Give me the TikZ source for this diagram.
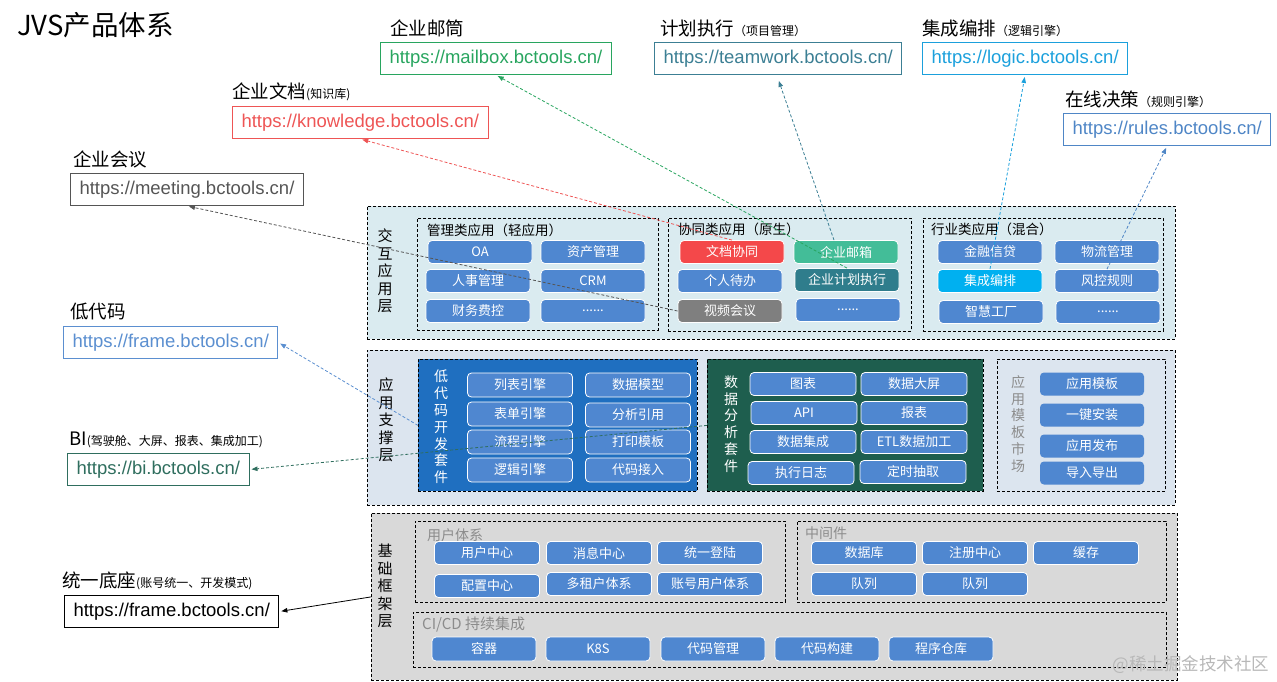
\documentclass[tikz,border=0pt]{standalone}
\usepackage{fontspec}
\setmainfont{Noto Sans CJK SC}
\newfontfamily\urlfont{Liberation Sans}
\usetikzlibrary{positioning,arrows.meta}

\definecolor{btnblue}{HTML}{4F87D0}
\definecolor{docred}{HTML}{F4484A}
\definecolor{mailteal}{HTML}{43BD98}
\definecolor{planteal}{HTML}{2F7D8C}
\definecolor{meetgray}{HTML}{7F7F7F}
\definecolor{flowcyan}{HTML}{00B0F0}
\definecolor{lyone}{HTML}{DAEBF0}
\definecolor{lytwo}{HTML}{DCE5EF}
\definecolor{lythree}{HTML}{D9D9D9}
\definecolor{lcblue}{HTML}{1F6FC0}
\definecolor{dagreen}{HTML}{1E5E4E}
\definecolor{mailgreen}{HTML}{28A55F}
\definecolor{teamteal}{HTML}{3C7F94}
\definecolor{logiccyan}{HTML}{1BA0DC}
\definecolor{rulesblue}{HTML}{4F86C6}
\definecolor{knowred}{HTML}{EE5555}
\definecolor{urlgray}{HTML}{555555}
\definecolor{frameblue}{HTML}{5B8FD0}
\definecolor{bigreen}{HTML}{2F6E5E}
\definecolor{titlegray}{HTML}{8C8C8C}

\tikzset{
  layerbox/.style={draw, dash pattern=on 3pt off 2pt, line width=0.8pt, anchor=north west, inner sep=0pt},
  btn/.style={draw=white, line width=0.8pt, rounded corners=4pt, fill=btnblue, text=white,
    minimum width=104pt, minimum height=23pt, inner sep=0pt, font=\fontsize{13}{13}\selectfont},
  urlbox/.style={draw=#1, text=#1, line width=1pt, anchor=north west, minimum height=32pt,
    inner xsep=9pt, font=\urlfont\fontsize{18.5}{18.5}\selectfont},
  lbl/.style={inner sep=0pt, font=\fontsize{18.5}{18.5}\selectfont},
  vlbl/.style={align=center, inner sep=0pt, font=\fontsize{15}{17.5}\selectfont},
  gtitle/.style={inner sep=0pt, anchor=west, font=\fontsize{13.5}{13.5}\selectfont},
  linkto/.style={draw=#1, -{Triangle[length=6pt,width=4.5pt]}, dash pattern=on 3pt off 2pt,
    line width=0.8pt, shorten >=2pt},
}
\newcommand{\sm}[1]{{\fontsize{12}{12}\selectfont #1}}

\begin{document}
\begin{tikzpicture}[x=1pt,y=-1pt]
\useasboundingbox (0,0) rectangle (1277,681);
\node[anchor=west, inner sep=0pt, font=\fontsize{27.5}{27.5}\selectfont] (title) at (17,25) {JVS产品体系};

% url boxes
\node[urlbox=mailgreen]  (mail)  at (380,42)  {https://mailbox.bctools.cn/};
\node[urlbox=teamteal]   (team)  at (654,42)  {https://teamwork.bctools.cn/};
\node[urlbox=logiccyan]  (logic) at (922,42)  {https://logic.bctools.cn/};
\node[urlbox=rulesblue]  (rules) at (1063,113) {https://rules.bctools.cn/};
\node[urlbox=knowred]    (know)  at (232,106) {https://knowledge.bctools.cn/};
\node[urlbox=urlgray]    (meet)  at (70,173)  {https://meeting.bctools.cn/};
\node[urlbox=frameblue]  (frame) at (63,326)  {https://frame.bctools.cn/};
\node[urlbox=bigreen]    (bi)    at (67,453)  {https://bi.bctools.cn/};
\node[urlbox=black]      (base)  at (64,595)  {https://frame.bctools.cn/};

\node[lbl, above right=5pt and 10pt of mail.north west]  {企业邮筒};
\node[lbl, above right=5pt and 6pt of team.north west]   {计划执行\sm{（项目管理）}};
\node[lbl, above right=5pt and 0pt of logic.north west]  {集成编排\sm{（逻辑引擎）}};
\node[lbl, above right=5pt and 2pt of rules.north west]  {在线决策\sm{（规则引擎）}};
\node[lbl, above right=5pt and 0pt of know.north west]   {企业文档\sm{(知识库)}};
\node[lbl, above right=5pt and 3pt of meet.north west]   {企业会议};
\node[lbl, above right=6pt and 7pt of frame.north west]  {低代码};
\node[lbl, above right=5pt and 2pt of bi.north west]     {BI\sm{(驾驶舱、大屏、报表、集成加工)}};
\node[lbl, above right=5pt and -2pt of base.north west]  {统一底座\sm{(账号统一、开发模式)}};

% layers
\node[layerbox, fill=lyone,   minimum width=808pt, minimum height=133pt] (L1) at (367,206) {};
\node[layerbox, fill=lytwo,   minimum width=808pt, minimum height=155pt] (L2) at (367,350) {};
\node[layerbox, fill=lythree, minimum width=806pt, minimum height=167pt] (L3) at (371,513) {};
\node[vlbl] at (385,271) {交\\互\\应\\用\\层};
\node[vlbl] at (386,420) {应\\用\\支\\撑\\层};
\node[vlbl] at (385,586) {基\\础\\框\\架\\层};

% 交互应用层
\node[layerbox, minimum width=241pt, minimum height=112pt] (ga) at (417,218) {};
\node[layerbox, minimum width=243pt, minimum height=113pt] (gb) at (668,218) {};
\node[layerbox, minimum width=240pt, minimum height=113pt] (gc) at (923,218) {};
\node[gtitle] at (427,230) {管理类应用（轻应用）};
\node[gtitle] at (678,229) {协同类应用（原生）};
\node[gtitle] at (931,229) {行业类应用（混合）};

\node[btn] (oa)  at (480,252) {OA};
\node[btn] (zc)  at (593,252) {资产管理};
\node[btn] (rs)  at (478,281) {人事管理};
\node[btn] (crm) at (593,281) {CRM};
\node[btn] (cw)  at (478,311) {财务费控};
\node[btn] (ma)  at (593,311) {......};

\node[btn, fill=docred]   (wd) at (732,252) {文档协同};
\node[btn, fill=mailteal] (yj) at (846,252) {企业邮箱};
\node[btn]                (gr) at (730,281) {个人待办};
\node[btn, fill=planteal] (jh) at (847,280) {企业计划执行};
\node[btn, fill=meetgray] (sp) at (730,311) {视频会议};
\node[btn]                (mb) at (848,310) {......};

\node[btn]                (jr) at (990,252)  {金融信贷};
\node[btn]                (wl) at (1107,252) {物流管理};
\node[btn, fill=flowcyan] (jc) at (990,281)  {集成编排};
\node[btn]                (fk) at (1107,281) {风控规则};
\node[btn]                (zh) at (991,312)  {智慧工厂};
\node[btn]                (mc) at (1108,312) {......};

% 应用支撑层
\node[layerbox, fill=lcblue,  minimum width=279pt, minimum height=132pt] (lc) at (418,359) {};
\node[layerbox, fill=dagreen, minimum width=276pt, minimum height=132pt] (da) at (707,359) {};
\node[layerbox, minimum width=168pt, minimum height=132pt] (mk) at (997,359) {};
\node[vlbl, text=white, font=\fontsize{14}{16.8}\selectfont] at (441,427) {低\\代\\码\\开\\发\\套\\件};
\node[vlbl, text=white, font=\fontsize{14}{16.8}\selectfont] at (731,424) {数\\据\\分\\析\\套\\件};
\node[vlbl, text=titlegray, font=\fontsize{14}{16.8}\selectfont] at (1018,424) {应\\用\\模\\板\\市\\场};

\node[btn, minimum width=105pt, minimum height=24pt] (lb) at (520,385) {列表引擎};
\node[btn, minimum width=105pt, minimum height=24pt] (sj) at (638,385) {数据模型};
\node[btn, minimum width=105pt, minimum height=24pt] (bd) at (520,414) {表单引擎};
\node[btn, minimum width=105pt, minimum height=24pt] (fx) at (638,415) {分析引用};
\node[btn, minimum width=105pt, minimum height=24pt] (lc1) at (520,442) {流程引擎};
\node[btn, minimum width=105pt, minimum height=24pt] (dy) at (638,442) {打印模板};
\node[btn, minimum width=105pt, minimum height=24pt] (lj) at (520,470) {逻辑引擎};
\node[btn, minimum width=105pt, minimum height=24pt] (dm) at (638,470) {代码接入};

\node[btn, minimum width=106pt] (tb)  at (803,384) {图表};
\node[btn, minimum width=106pt] (dp)  at (914,384) {数据大屏};
\node[btn, minimum width=106pt] (api) at (804,413) {API};
\node[btn, minimum width=106pt] (bb)  at (914,413) {报表};
\node[btn, minimum width=106pt] (jcd) at (803,442) {数据集成};
\node[btn, minimum width=106pt] (etl) at (914,442) {ETL数据加工};
\node[btn, minimum width=106pt] (rz)  at (801,473) {执行日志};
\node[btn, minimum width=106pt] (ds)  at (913,472) {定时抽取};

\node[btn, draw=none] (mb1) at (1092,384) {应用模板};
\node[btn, draw=none] (mb2) at (1092,415) {一键安装};
\node[btn, draw=none] (mb3) at (1092,446) {应用发布};
\node[btn, draw=none] (mb4) at (1092,473) {导入导出};

% 基础框架层
\node[layerbox, minimum width=370pt, minimum height=81pt] (us) at (415,521) {};
\node[layerbox, minimum width=369pt, minimum height=81pt] (mw) at (797,521) {};
\node[layerbox, minimum width=753pt, minimum height=55pt] (ci) at (413,612) {};
\node[gtitle, text=titlegray, font=\fontsize{14}{14}\selectfont] at (427,535) {用户体系};
\node[gtitle, text=titlegray, font=\fontsize{14}{14}\selectfont] at (805,533) {中间件};
\node[gtitle, text=titlegray, font=\fontsize{15}{15}\selectfont] at (422,625) {CI/CD 持续集成};

\node[btn, minimum width=105pt] (yh) at (487,553) {用户中心};
\node[btn, minimum width=105pt] (xx) at (599,553) {消息中心};
\node[btn, minimum width=105pt] (dl) at (710,553) {统一登陆};
\node[btn, minimum width=105pt] (pz) at (487,586) {配置中心};
\node[btn, minimum width=105pt] (zu) at (599,584) {多租户体系};
\node[btn, minimum width=105pt] (zh2) at (710,584) {账号用户体系};

\node[btn, minimum width=105pt] (db) at (864,553)  {数据库};
\node[btn, minimum width=105pt] (zc2) at (975,553) {注册中心};
\node[btn, minimum width=105pt] (hc) at (1086,553) {缓存};
\node[btn, minimum width=105pt] (dl1) at (864,584) {队列};
\node[btn, minimum width=105pt] (dl2) at (975,584) {队列};

\node[btn, minimum height=24pt] (rq)  at (484,649) {容器};
\node[btn, minimum height=24pt] (k8s) at (598,649) {K8S};
\node[btn, minimum height=24pt] (gl)  at (713,649) {代码管理};
\node[btn, minimum height=24pt] (gj)  at (827,649) {代码构建};
\node[btn, minimum height=24pt] (ck)  at (941,649) {程序仓库};

\node[inner sep=0pt, text=black!28, font=\fontsize{17.5}{17.5}\selectfont] (wm) at (1191,665) {@稀土掘金技术社区};

% links
\draw[linkto=mailgreen] (jh.north) -- (mail.south);
\draw[linkto=teamteal]  ([xshift=-12pt]yj.north) -- ([yshift=-4pt]team.south);
\draw[linkto=knowred]   (wd.north) -- (know.south);
\draw[linkto=urlgray]   (sp.west) -- (meet.south);
\draw[linkto=logiccyan] (jc.north) -- (logic.south);
\draw[linkto=rulesblue] (fk.north) -- (rules.south);
\draw[linkto=frameblue] (lc.west) -- (frame.east);
\draw[linkto=bigreen]   (da.west) -- (bi.east);
\draw[-{Triangle[length=6pt,width=4.5pt]}, line width=0.8pt, shorten >=2pt] (L3.west) -- (base.east);
\end{tikzpicture}
\end{document}
